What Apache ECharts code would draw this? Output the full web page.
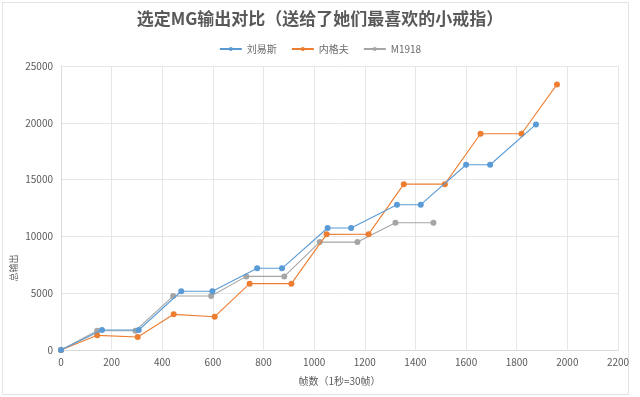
<!DOCTYPE html>
<html>
<head>
<meta charset="utf-8">
<script src="https://cdn.jsdelivr.net/npm/echarts@6/dist/echarts.min.js"></script>
<style>
  html, body { margin: 0; padding: 0; background: #fff; }
  #chart { width: 640px; height: 397px; }
</style>
</head>
<body>
<div id="chart"></div>
<script>
// frames (x) and total output (y) per gun
const lewisFrames = [0, 162, 307, 475, 598, 775, 873, 1053, 1146, 1327, 1421, 1600, 1695, 1876];
const lewisTotal  = [0, 1760, 1760, 5170, 5170, 7190, 7190, 10740, 10740, 12790, 12790, 16310, 16310, 19860];

const negevFrames = [0, 143, 303, 445, 607, 745, 910, 1049, 1215, 1354, 1516, 1657, 1819, 1959];
const negevTotal  = [0, 1290, 1144, 3140, 2930, 5840, 5840, 10180, 10200, 14600, 14600, 19040, 19040, 23380];

const m1918Frames = [0, 143, 294, 443, 593, 732, 882, 1022, 1171, 1321, 1471];
const m1918Total  = [0, 1700, 1700, 4750, 4750, 6480, 6480, 9500, 9500, 11200, 11200];

const seriesNames = ["刘易斯", "内格夫", "M1918"];
const seriesColors = ["#5b9bd5", "#ed7d31", "#a5a5a5"];

const zip = (xs, ys) => xs.map((x, i) => [x, ys[i]]);
const allData = [
  zip(lewisFrames, lewisTotal),
  zip(negevFrames, negevTotal),
  zip(m1918Frames, m1918Total),
];

const font = "'Noto Sans CJK SC', 'Noto Sans', sans-serif";
const textColor = "#595959";
const plain = (v) => String(v);

const chart = echarts.init(document.getElementById("chart"));

const option = {
  animation: false,
  color: seriesColors,
  title: {
    text: "选定MG输出对比（送给了她们最喜欢的小戒指）",
    left: "center",
    top: 5,
    textStyle: {
      fontFamily: font,
      fontSize: 17,
      fontWeight: "bold",
      color: textColor,
    },
  },
  legend: {
    top: 39,
    left: "center",
    itemWidth: 22,
    itemHeight: 5,
    itemGap: 14,
    textStyle: { fontFamily: font, fontSize: 10, color: "#6b6b6b" },
    data: seriesNames,
  },
  grid: {
    left: 61,
    right: 22,
    top: 66,
    bottom: 47,
  },
  xAxis: {
    type: "value",
    min: 0,
    max: 2200,
    interval: 200,
    name: "帧数（1秒=30帧）",
    nameLocation: "middle",
    nameGap: 26,
    nameTextStyle: { fontFamily: font, fontSize: 10, color: textColor },
    axisLine: { show: true, lineStyle: { color: "#d9d9d9" } },
    axisTick: { show: false },
    axisLabel: { fontFamily: font, fontSize: 10, color: textColor, margin: 7, formatter: plain },
    splitLine: { show: true, lineStyle: { color: "#e6e6e6" } },
  },
  yAxis: {
    type: "value",
    min: 0,
    max: 25000,
    interval: 5000,
    axisLine: { show: true, lineStyle: { color: "#d9d9d9" } },
    axisTick: { show: false },
    axisLabel: { fontFamily: font, fontSize: 10, color: textColor, margin: 8, formatter: plain },
    splitLine: { show: true, lineStyle: { color: "#e6e6e6" } },
  },
  graphic: [
    {
      type: "rect",
      shape: { x: 2.5, y: 2.5, width: 626, height: 392 },
      style: { fill: "none", stroke: "#e3e3e3", lineWidth: 1 },
      silent: true,
    },
    {
      type: "text",
      x: 14,
      y: 268,
      rotation: Math.PI / 2,
      style: {
        text: "总输出",
        fontFamily: font,
        fontSize: 9,
        fill: textColor,
        align: "center",
        verticalAlign: "middle",
      },
    },
  ],
  series: seriesNames.map((name, i) => ({
    name: name,
    type: "line",
    data: allData[i],
    symbol: "circle",
    symbolSize: 6,
    lineStyle: { width: 1.1 },
    z: 3 - i,
  })),
};

chart.setOption(option);
</script>
</body>
</html>
